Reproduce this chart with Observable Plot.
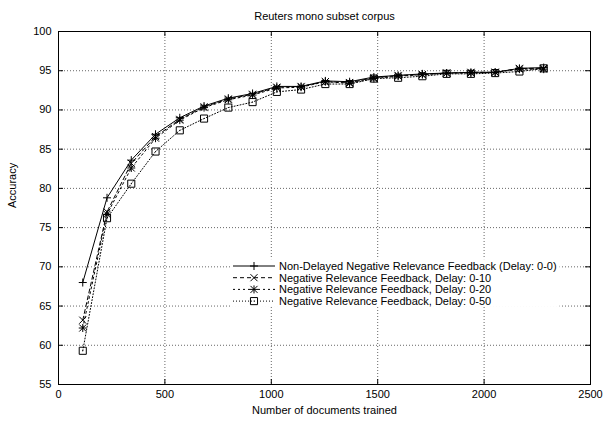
<!DOCTYPE html>
<html>
<head>
<meta charset="utf-8">
<script src="https://cdn.jsdelivr.net/npm/d3@7"></script>
<script src="https://cdn.jsdelivr.net/npm/@observablehq/plot@0.6"></script>
<style>
  html, body { margin: 0; padding: 0; background: #fff; }
  #chart svg { display: block; font-family: "Liberation Sans", Arial, Helvetica, sans-serif; color: #000; }
</style>
</head>
<body>
<div id="chart"></div>
<script>
// Accuracy after each batch of training documents
const docsTrained = [114, 228, 342, 456, 570, 684, 798, 912, 1026, 1140,
                     1254, 1368, 1482, 1596, 1710, 1824, 1938, 2052, 2166, 2280];
const nonDelayed = [68.0, 78.8, 83.6, 86.9, 89.0, 90.5, 91.5, 92.1, 93.0, 93.0,
                    93.7, 93.6, 94.2, 94.4, 94.6, 94.7, 94.8, 94.8, 95.3, 95.4];
const delay10    = [63.2, 77.0, 83.2, 86.6, 88.8, 90.4, 91.4, 92.0, 92.9, 93.0,
                    93.6, 93.5, 94.1, 94.4, 94.5, 94.7, 94.8, 94.8, 95.3, 95.3];
const delay20    = [62.2, 76.7, 82.6, 86.4, 88.7, 90.3, 91.3, 91.9, 92.8, 92.9,
                    93.6, 93.4, 94.0, 94.3, 94.5, 94.7, 94.7, 94.8, 95.2, 95.2];
const delay50    = [59.3, 76.2, 80.6, 84.7, 87.4, 88.9, 90.3, 91.0, 92.3, 92.6,
                    93.3, 93.3, 94.0, 94.1, 94.3, 94.6, 94.6, 94.7, 94.9, 95.3];

const seriesNames = [
  "Non-Delayed Negative Relevance Feedback (Delay: 0-0)",
  "Negative Relevance Feedback, Delay: 0-10",
  "Negative Relevance Feedback, Delay: 0-20",
  "Negative Relevance Feedback, Delay: 0-50"
];
const xTicks = [0, 500, 1000, 1500, 2000, 2500];
const yTicks = [55, 60, 65, 70, 75, 80, 85, 90, 95, 100];

const chartTitle = "Reuters mono subset corpus";
const xLabel = "Number of documents trained";
const yLabel = "Accuracy";

// line dash pattern and point symbols (drawn over each other) per series
const series = [
  {name: seriesNames[0], values: nonDelayed, dash: null,    symbols: [{s: "plus", r: 2.7}]},
  {name: seriesNames[1], values: delay10,    dash: "4,3",   symbols: [{s: "times", r: 3.3}]},
  {name: seriesNames[2], values: delay20,    dash: "2,3",   symbols: [{s: "plus", r: 2.7}, {s: "times", r: 3.3}]},
  {name: seriesNames[3], values: delay50,    dash: "1,2",   symbols: [{s: "square", r: 4.0}, {s: "circle", r: 0.5}]}
];

const W = 605, H = 424;
const mL = 58, mR = 15, mT = 31, mB = 40;
const fw = W - mL - mR, fh = H - mT - mB;
const tick = 5;
const fs = 11;

const marks = [
  Plot.gridX(xTicks, {stroke: "#000", strokeOpacity: 0.6, strokeDasharray: "1,2"}),
  Plot.gridY(yTicks, {stroke: "#000", strokeOpacity: 0.6, strokeDasharray: "1,2"})
];

for (const s of series) {
  const pts = s.values.map((v, i) => ({x: docsTrained[i], y: v}));
  marks.push(Plot.line(pts, {x: "x", y: "y", stroke: "#000", strokeWidth: 1,
                             strokeDasharray: s.dash ?? undefined}));
  for (const m of s.symbols) {
    const filled = m.s === "circle";
    marks.push(Plot.dot(pts, {x: "x", y: "y", symbol: m.s, r: m.r,
      stroke: filled ? "none" : "#000", fill: filled ? "#000" : "none", strokeWidth: 1}));
  }
}

marks.push(
  Plot.frame({stroke: "#000", strokeWidth: 1}),
  // inward ticks on all four sides
  Plot.ruleX(xTicks, {x: d => d, insetTop: fh - tick, stroke: "#000"}),
  Plot.ruleX(xTicks, {x: d => d, insetBottom: fh - tick, stroke: "#000"}),
  Plot.ruleY(yTicks, {y: d => d, insetRight: fw - tick, stroke: "#000"}),
  Plot.ruleY(yTicks, {y: d => d, insetLeft: fw - tick, stroke: "#000"}),
  Plot.axisX({ticks: xTicks, tickSize: 0, tickPadding: 6, label: null, fontSize: fs, tickFormat: d => String(d)}),
  Plot.axisY({ticks: yTicks, tickSize: 0, tickPadding: 7, label: null, fontSize: fs, tickFormat: d => String(d)}),
  Plot.text([chartTitle], {frameAnchor: "top", dy: -19, fontSize: fs, fill: "#000"}),
  Plot.text([xLabel], {frameAnchor: "bottom", dy: 29, fontSize: fs, fill: "#000"}),
  Plot.text([yLabel], {frameAnchor: "left", dx: -46, rotate: -90, fontSize: fs, fill: "#000"})
);

const chart = Plot.plot({
  width: W, height: H,
  marginLeft: mL, marginRight: mR, marginTop: mT, marginBottom: mB,
  x: {domain: [0, 2500]},
  y: {domain: [55, 100]},
  style: {fontFamily: '"Liberation Sans", Arial, Helvetica, sans-serif', fontSize: fs + "px", color: "#000", background: "#fff"},
  marks
});
document.getElementById("chart").append(chart);

// Key inside the plot area, with a white backing that interrupts the grid
const svg = d3.select(chart);
const key = svg.append("g").attr("class", "key").attr("text-anchor", "start");
const keyX = 233, keyY = 266, rowH = 11.7, sampleLen = 42, textX = keyX + sampleLen + 4;
const bg = key.append("rect").attr("fill", "#fff");
const symbolFor = {plus: d3.symbolPlus, times: d3.symbolTimes, square: d3.symbolSquare, circle: d3.symbolCircle};
series.forEach((s, i) => {
  const y = keyY + i * rowH;
  key.append("line").attr("x1", keyX).attr("x2", keyX + sampleLen)
    .attr("y1", y).attr("y2", y).attr("stroke", "#000").attr("stroke-width", 1)
    .attr("stroke-dasharray", s.dash);
  for (const m of s.symbols) {
    const filled = m.s === "circle";
    key.append("path")
      .attr("d", d3.symbol(symbolFor[m.s], Math.PI * m.r * m.r)())
      .attr("transform", `translate(${keyX + sampleLen / 2},${y})`)
      .attr("fill", filled ? "#000" : "none").attr("stroke", filled ? "none" : "#000");
  }
  key.append("text").attr("x", textX).attr("y", y).attr("dy", "0.35em")
    .attr("text-anchor", "start").attr("font-size", fs).attr("fill", "#000").text(s.name);
});
const bb = key.node().getBBox();
bg.attr("x", bb.x - 3).attr("y", keyY - rowH / 2 - 1)
  .attr("width", bb.width + 6).attr("height", rowH * series.length + 1);
</script>
</body>
</html>
